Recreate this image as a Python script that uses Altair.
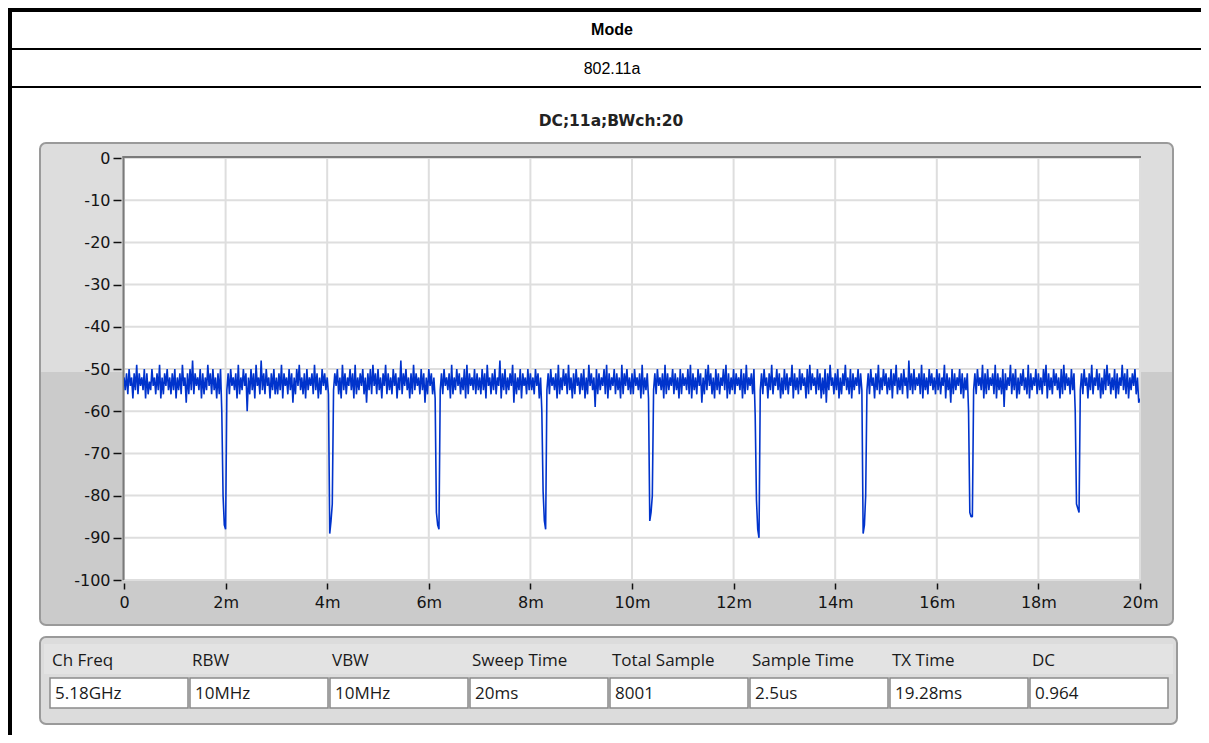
import altair as alt
import pandas as pd

# ---------------- data ----------------
mode_header = "Mode"
mode_value = "802.11a"
chart_title = "DC;11a;BWch:20"

sweep_ms = 20.0
# power trace (dBm) on the 0.05 ms grid (t = 0, 0.05, ... 20 ms): upper side of the noise band + gaps
trace_db = [
    -52, -51, -50, -52, -51, -49, -51, -52, -50, -51, -53, -50, -52, -51, -49, -52, -51, -50, -52, -51,
    -50, -52, -51, -49, -52, -51, -50, -48, -51, -52, -50, -51, -52, -49, -51, -50, -52, -51, -50, -80,
    -88, -51, -50, -52, -51, -49, -52, -50, -51, -52, -50, -51, -49, -52, -48, -51, -50, -52, -51, -50,
    -52, -51, -49, -51, -52, -50, -51, -52, -50, -49, -52, -51, -50, -52, -51, -49, -51, -52, -50, -51,
    -52, -89, -82, -51, -50, -52, -49, -51, -52, -50, -51, -49, -52, -51, -50, -52, -51, -50, -49, -51,
    -50, -52, -51, -49, -51, -52, -50, -51, -52, -48, -51, -50, -52, -51, -49, -51, -52, -50, -51, -52,
    -50, -51, -52, -84, -88, -51, -50, -52, -51, -49, -52, -50, -51, -52, -50, -49, -51, -52, -50, -51,
    -52, -50, -51, -49, -52, -51, -50, -52, -48, -51, -50, -52, -51, -49, -51, -52, -50, -51, -52, -50,
    -51, -52, -50, -51, -52, -79, -88, -51, -50, -52, -51, -49, -52, -50, -51, -49, -52, -51, -50, -52,
    -51, -50, -52, -49, -51, -52, -50, -51, -52, -50, -49, -51, -52, -50, -51, -52, -49, -51, -50, -52,
    -51, -50, -52, -51, -49, -52, -51, -86, -80, -51, -50, -52, -51, -49, -51, -52, -50, -51, -52, -50,
    -51, -52, -50, -49, -51, -52, -50, -51, -52, -50, -49, -51, -52, -50, -51, -52, -50, -49, -51, -52,
    -50, -51, -52, -50, -51, -49, -52, -51, -50, -81, -90, -51, -50, -52, -51, -49, -52, -50, -51, -52,
    -50, -51, -52, -49, -51, -52, -50, -51, -52, -50, -49, -51, -52, -50, -51, -52, -50, -51, -49, -52,
    -51, -50, -52, -51, -49, -52, -50, -51, -52, -50, -51, -89, -80, -51, -50, -52, -51, -49, -52, -50,
    -51, -52, -50, -51, -49, -52, -51, -50, -52, -48, -51, -50, -52, -51, -49, -51, -52, -50, -51, -52,
    -50, -51, -52, -49, -51, -52, -50, -51, -52, -50, -51, -52, -51, -84, -85, -51, -50, -52, -49, -51,
    -50, -52, -51, -49, -51, -52, -50, -51, -52, -49, -51, -50, -52, -51, -50, -52, -49, -51, -52, -50,
    -51, -52, -50, -49, -51, -52, -50, -51, -52, -50, -49, -51, -52, -50, -51, -82, -84, -51, -50, -52,
    -51, -49, -52, -50, -51, -52, -50, -49, -51, -52, -50, -51, -52, -49, -51, -50, -52, -51, -50, -52,
    -57,
]
# power trace (dBm) at the in-between samples (t = 0.025, 0.075, ... 19.975 ms): lower side of the band + gaps
trace_mid_db = [
    -55, -56, -54, -57, -55, -56, -54, -55, -57, -56, -55, -54, -56, -55, -57, -56, -54, -55, -56, -55,
    -57, -55, -56, -54, -58, -56, -55, -56, -54, -55, -57, -56, -55, -54, -56, -55, -57, -56, -60, -87,
    -55, -56, -54, -55, -57, -56, -55, -54, -60, -56, -55, -57, -54, -56, -55, -56, -54, -57, -55, -56,
    -56, -55, -57, -54, -56, -55, -58, -56, -54, -55, -56, -57, -55, -54, -56, -55, -57, -56, -54, -55,
    -56, -86, -55, -54, -56, -57, -55, -56, -54, -55, -57, -56, -55, -54, -56, -58, -55, -56, -54, -56,
    -55, -57, -54, -56, -55, -56, -54, -57, -55, -56, -54, -55, -57, -56, -55, -54, -56, -55, -58, -56,
    -54, -56, -57, -87, -55, -56, -54, -55, -57, -56, -55, -54, -56, -55, -57, -56, -54, -55, -56, -55,
    -56, -55, -57, -54, -56, -55, -56, -54, -57, -55, -56, -55, -54, -58, -56, -55, -57, -54, -56, -55,
    -55, -56, -54, -57, -60, -86, -55, -56, -54, -55, -57, -56, -55, -54, -56, -55, -57, -56, -54, -56,
    -55, -57, -56, -54, -55, -59, -56, -55, -54, -56, -57, -55, -54, -56, -55, -57, -56, -54, -55, -56,
    -56, -54, -55, -57, -56, -55, -57, -84, -55, -56, -54, -55, -57, -56, -55, -54, -56, -55, -57, -56,
    -54, -55, -56, -57, -55, -56, -54, -58, -56, -55, -54, -56, -57, -55, -56, -54, -55, -57, -56, -55,
    -56, -54, -55, -57, -56, -55, -54, -56, -61, -88, -55, -56, -54, -57, -55, -56, -54, -55, -57, -56,
    -55, -56, -54, -57, -55, -56, -55, -54, -57, -56, -55, -54, -56, -55, -57, -56, -58, -55, -54, -56,
    -55, -57, -56, -54, -55, -56, -57, -55, -54, -56, -55, -87, -55, -56, -54, -57, -55, -56, -55, -54,
    -56, -55, -57, -54, -56, -55, -56, -54, -57, -55, -56, -55, -54, -56, -57, -55, -56, -54, -55, -56,
    -55, -56, -54, -57, -55, -58, -56, -55, -54, -56, -57, -55, -60, -85, -55, -56, -54, -55, -57, -56,
    -55, -54, -56, -57, -55, -56, -59, -55, -54, -56, -55, -57, -56, -54, -55, -56, -57, -55, -54, -56,
    -55, -56, -54, -57, -55, -56, -54, -55, -57, -56, -55, -54, -56, -55, -60, -83, -55, -56, -54, -57,
    -55, -56, -54, -55, -57, -56, -55, -54, -56, -55, -57, -56, -54, -55, -56, -57, -55, -54, -56, -58,
]

x_ticks_ms = [0, 2, 4, 6, 8, 10, 12, 14, 16, 18, 20]
y_ticks_db = [0, -10, -20, -30, -40, -50, -60, -70, -80, -90, -100]

info_labels = ["Ch Freq", "RBW", "VBW", "Sweep Time", "Total Sample", "Sample Time", "TX Time", "DC"]
info_values = ["5.18GHz", "10MHz", "10MHz", "20ms", "8001", "2.5us", "19.28ms", "0.964"]

# ---------------- layout ----------------
W, H = 1016, 422
OX, OY = 124, 158  # page position of plot origin
one = pd.DataFrame({"k": [0]})

step = sweep_ms / (len(trace_db) - 1)
trace = pd.concat([
    pd.DataFrame({"t": [i * step for i in range(len(trace_db))], "db": trace_db}),
    pd.DataFrame({"t": [(j + 0.5) * step for j in range(len(trace_mid_db))], "db": trace_mid_db}),
]).sort_values("t").reset_index(drop=True)
trace["order"] = range(len(trace))

xs = alt.Scale(domain=[0, 20], nice=False, zero=False)
ys = alt.Scale(domain=[-100, 0], nice=False, zero=False)

ax_x = alt.Axis(values=x_ticks_ms, labelExpr="datum.value == 0 ? '0' : datum.value + 'm'",
                grid=False, domain=False, tickColor="#111111", tickSize=6, tickWidth=1.5,
                offset=3, labelFont="DejaVu Sans", labelFontSize=16, labelColor="#141414",
                labelPadding=5, labelFlush=False, labelOverlap=False, title=None, zindex=1)
ax_y = alt.Axis(values=y_ticks_db, labelExpr="datum.value == 0 ? '0' : '-' + abs(datum.value)",
                grid=False, domain=False, tickColor="#111111", tickSize=8,
                tickWidth=1.5, offset=3, labelFont="DejaVu Sans", labelFontSize=16,
                labelColor="#141414", labelPadding=3, labelFlush=False, labelOverlap=False,
                title=None, zindex=1)


def rect(x1, y1, x2, y2, **mk):
    return alt.Chart(one).mark_rect(**mk).encode(
        x=alt.value(x1 - OX), x2=alt.value(x2 - OX),
        y=alt.value(y1 - OY), y2=alt.value(y2 - OY))


def text(s, X, Y, **mk):
    return alt.Chart(one).mark_text(text=s, baseline="middle", **mk).encode(
        x=alt.value(X - OX), y=alt.value(Y - OY))


layers = []
# outer frame
layers.append(rect(8, 8, 1201, 12, fill="#000000"))
layers.append(rect(8, 8, 12, 735, fill="#000000"))
layers.append(rect(8, 48, 1201, 50, fill="#000000"))
layers.append(rect(8, 86, 1201, 88, fill="#000000"))
layers.append(text(mode_header, 612, 30, font="Liberation Sans", fontSize=16, fontWeight="bold", color="#000000"))
layers.append(text(mode_value, 612, 69, font="Liberation Sans", fontSize=16, color="#000000"))
layers.append(text(chart_title, 611, 121, font="DejaVu Sans", fontSize=15.5, fontWeight="bold", color="#222222"))

# graph panel
layers.append(rect(40, 143, 1173, 625, fill="#dddddd", cornerRadius=6))
layers.append(rect(41, 372, 1172, 624, fill="#cbcbcb", cornerRadiusBottomLeft=5, cornerRadiusBottomRight=5))
layers.append(rect(40, 143, 1173, 625, fillOpacity=0, stroke="#9a9a9a", strokeWidth=2, cornerRadius=6))
layers.append(rect(OX, OY, OX + W, OY + H, fill="#ffffff"))

# grid
layers.append(alt.Chart(pd.DataFrame({"t": x_ticks_ms})).mark_rule(color="#dedede", strokeWidth=2).encode(
    x=alt.X("t:Q", scale=xs, axis=ax_x)))
layers.append(alt.Chart(pd.DataFrame({"db": y_ticks_db})).mark_rule(color="#dedede", strokeWidth=2).encode(
    y=alt.Y("db:Q", scale=ys, axis=ax_y)))

# plot inset border
layers.append(rect(122.5, 156, OX + W + 1, 158, fill="#7a7a7a"))
layers.append(rect(122.5, 156, 124.5, OY + H, fill="#7a7a7a"))

# trace
layers.append(alt.Chart(trace).mark_line(color="#0033cc", strokeWidth=1.6, strokeJoin="bevel", clip=True).encode(
    x=alt.X("t:Q", scale=xs, axis=ax_x),
    y=alt.Y("db:Q", scale=ys, axis=ax_y),
    order="order:Q"))

# info panel
layers.append(rect(40, 637, 1177, 724, fill="#dcdcdc", stroke="#9a9a9a", strokeWidth=2, cornerRadius=6))
layers.append(rect(44, 644, 1173, 674, fill="#e3e3e3"))
for i, (lab, val) in enumerate(zip(info_labels, info_values)):
    x0 = 50 + 140 * i
    layers.append(rect(x0, 678, x0 + 138, 708, fill="#ffffff", stroke="#8a8a8a", strokeWidth=1.5))
    layers.append(text(lab, x0 + 2, 661, align="left", font="Open Sans", fontSize=17, color="#1a1a1a"))
    layers.append(text(val, x0 + 5, 694, align="left", font="Open Sans", fontSize=17, color="#1a1a1a"))

chart = alt.layer(*layers).properties(
    width=W, height=H,
    padding={"left": 116, "top": 150, "right": 61, "bottom": 155},
    autosize=alt.AutoSizeParams(type="none"),
    background="#ffffff",
).configure_view(stroke=None)

chart.save("out.html", embed_options={"renderer": "svg", "actions": False})
